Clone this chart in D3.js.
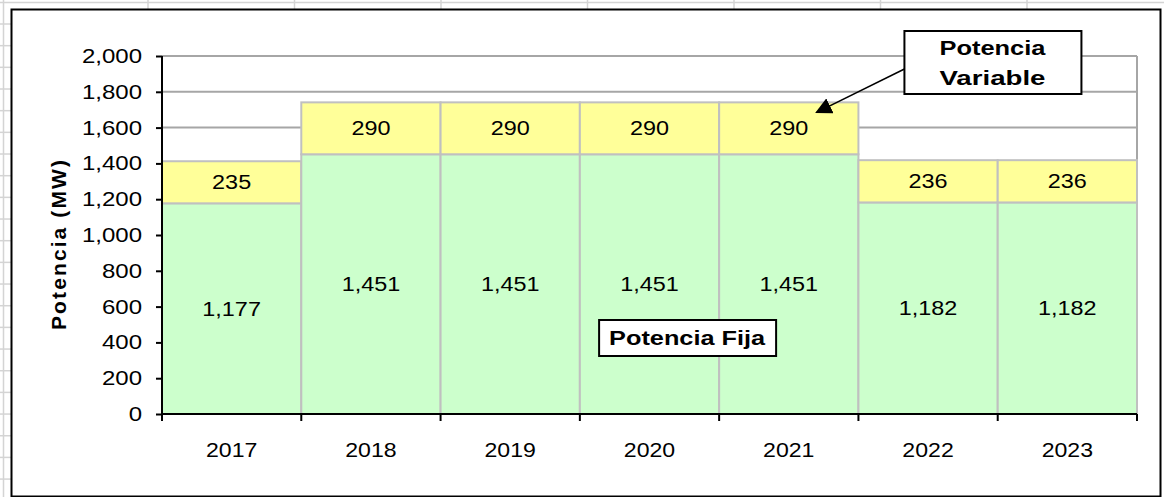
<!DOCTYPE html>
<html>
<head>
<meta charset="utf-8">
<script src="https://cdn.jsdelivr.net/npm/d3@7"></script>
<style>
  body { margin: 0; background: #fff; }
  svg text { font-family: "Liberation Sans", Arial, sans-serif; fill: #000; }
</style>
</head>
<body>
<script>
//////////////// Datas ////////////////////
var years = ["2017", "2018", "2019", "2020", "2021", "2022", "2023"];
var potenciaFija = [1177, 1451, 1451, 1451, 1451, 1182, 1182];
var potenciaVariable = [235, 290, 290, 290, 290, 236, 236];
var yTicks = [0, 200, 400, 600, 800, 1000, 1200, 1400, 1600, 1800, 2000];

var dataset = years.map(function(y, i) {
  return {year: y, fija: potenciaFija[i], variable: potenciaVariable[i]};
});

//////////////// Variables ////////////////////
var W = 1164, H = 497;
var margin = {top: 56, right: 27, bottom: 83, left: 162},
  width = W - margin.left - margin.right,
  height = H - margin.top - margin.bottom;

var svg = d3.select("body")
  .append("svg")
  .attr("width", W)
  .attr("height", H);

// the old excel picture is a bit stretched sideways -> widen the text
function stretch(sel, k) {
  sel.each(function() {
    var len = this.getComputedTextLength();
    d3.select(this)
      .attr("textLength", len * k)
      .attr("lengthAdjust", "spacingAndGlyphs");
  });
}

//////////////// spreadsheet background ////////////////////
var bg = svg.append("g").attr("stroke", "#d4d4d4").attr("stroke-width", 1.5);
bg.append("line").attr("x1", 0).attr("x2", W).attr("y1", 2.5).attr("y2", 2.5);
bg.append("line").attr("x1", 3.5).attr("x2", 3.5).attr("y1", 0).attr("y2", H);
d3.range(148, W, 146.5).forEach(function(x) {
  bg.append("line").attr("x1", x).attr("x2", x).attr("y1", 0).attr("y2", 10);
});
d3.range(24, H, 21.67).forEach(function(y) {
  bg.append("line").attr("x1", 0).attr("x2", 11).attr("y1", y).attr("y2", y);
});

// chart frame
svg.append("rect")
  .attr("x", 11.5).attr("y", 9.5)
  .attr("width", 1149).attr("height", 487)
  .attr("fill", "#fff")
  .attr("stroke", "#000")
  .attr("stroke-width", 2);

var g = svg.append("g")
  .attr("transform", "translate(" + margin.left + "," + margin.top + ")");

//////////////// Scaling ///////////////
var x = d3.scaleBand()
  .domain(years)
  .range([0, width])
  .padding(0);
var y = d3.scaleLinear()
  .domain([0, 2000])
  .range([height, 0]);

//////////////// Gridlines ///////////////
g.append("g")
  .selectAll("line")
  .data(yTicks.filter(function(d) { return d > 0; }))
  .enter()
  .append("line")
  .attr("x1", 0).attr("x2", width)
  .attr("y1", function(d) { return y(d); })
  .attr("y2", function(d) { return y(d); })
  .attr("stroke", "#a6a6a6")
  .attr("stroke-width", 2);
g.append("line")
  .attr("x1", width).attr("x2", width)
  .attr("y1", 0).attr("y2", height)
  .attr("stroke", "#a6a6a6")
  .attr("stroke-width", 2);

//////////////// Bars ///////////////
var bars = g.selectAll("g.bar")
  .data(dataset)
  .enter()
  .append("g")
  .attr("class", "bar");

bars.append("rect")
  .attr("x", function(d) { return x(d.year); })
  .attr("y", function(d) { return y(d.fija); })
  .attr("width", x.bandwidth())
  .attr("height", function(d) { return height - y(d.fija); })
  .attr("fill", "#ccffcc")
  .attr("stroke", "#c0c0c0")
  .attr("stroke-width", 2);

bars.append("rect")
  .attr("x", function(d) { return x(d.year); })
  .attr("y", function(d) { return y(d.fija + d.variable); })
  .attr("width", x.bandwidth())
  .attr("height", function(d) { return y(d.fija) - y(d.fija + d.variable); })
  .attr("fill", "#ffff99")
  .attr("stroke", "#c0c0c0")
  .attr("stroke-width", 2);

var fmt = d3.format(",");

bars.append("text")
  .attr("class", "val")
  .attr("x", function(d) { return x(d.year) + x.bandwidth() / 2; })
  .attr("y", function(d) { return (y(d.fija) + height) / 2; })
  .attr("dy", "0.35em")
  .attr("text-anchor", "middle")
  .style("font-size", "20px")
  .text(function(d) { return fmt(d.fija); });

bars.append("text")
  .attr("class", "val")
  .attr("x", function(d) { return x(d.year) + x.bandwidth() / 2; })
  .attr("y", function(d) { return (y(d.fija) + y(d.fija + d.variable)) / 2; })
  .attr("dy", "0.35em")
  .attr("text-anchor", "middle")
  .style("font-size", "20px")
  .text(function(d) { return fmt(d.variable); });

stretch(bars.selectAll("text.val"), 1.17);

//////////////// Axis ///////////////
var yAxis = d3.axisLeft(y)
  .tickValues(yTicks)
  .tickFormat(fmt)
  .tickSize(6)
  .tickPadding(14);

var yAchse = g.append("g")
  .attr("class", "y axis")
  .call(yAxis);
yAchse.select(".domain").attr("stroke", "#000").attr("stroke-width", 2).attr("d", "M0,0V" + height);
yAchse.selectAll(".tick line").attr("stroke", "#000").attr("stroke-width", 2);
yAchse.selectAll(".tick text")
  .style("font-size", "20px")
  .style("font-family", "'Liberation Sans', Arial, sans-serif");
stretch(yAchse.selectAll(".tick text"), 1.2);

var xAchse = g.append("g")
  .attr("class", "x axis")
  .attr("transform", "translate(0," + height + ")");
xAchse.append("line")
  .attr("x1", 0).attr("x2", width)
  .attr("stroke", "#000").attr("stroke-width", 2);
xAchse.selectAll("line.tk")
  .data(years.concat(["end"]))
  .enter()
  .append("line")
  .attr("class", "tk")
  .attr("x1", function(d, i) { return i * x.step(); })
  .attr("x2", function(d, i) { return i * x.step(); })
  .attr("y1", 0).attr("y2", 7)
  .attr("stroke", "#000").attr("stroke-width", 2);
xAchse.selectAll("text")
  .data(years)
  .enter()
  .append("text")
  .attr("x", function(d) { return x(d) + x.bandwidth() / 2; })
  .attr("y", 43)
  .attr("text-anchor", "middle")
  .style("font-size", "21px")
  .text(function(d) { return d; });
stretch(xAchse.selectAll("text"), 1.1);

// y axis title
g.append("text")
  .attr("transform", "translate(-96," + (height / 2 + 10) + ") rotate(-90)")
  .attr("text-anchor", "middle")
  .style("font-size", "21px")
  .style("font-weight", "bold")
  .attr("textLength", 170)
  .attr("lengthAdjust", "spacing")
  .text("Potencia (MW)");

//////////////// Annotations ///////////////
// Potencia Fija label box
var fijaBox = g.append("g")
  .attr("transform", "translate(" + (x("2020") + x.bandwidth() * 0.77) + "," + (y(0) - 76) + ")");
fijaBox.append("rect")
  .attr("x", -88).attr("y", -18)
  .attr("width", 177).attr("height", 36)
  .attr("fill", "#fff").attr("stroke", "#000").attr("stroke-width", 2);
fijaBox.append("text")
  .attr("text-anchor", "middle")
  .attr("dy", "0.36em")
  .style("font-size", "20px")
  .style("font-weight", "bold")
  .attr("textLength", 156)
  .attr("lengthAdjust", "spacingAndGlyphs")
  .text("Potencia Fija");

// Potencia Variable label box + arrow
var tip = {x: x("2021") + x.bandwidth() * 0.7, y: y(potenciaFija[4] + potenciaVariable[4]) + 10};
var boxX = x("2022") + 46, boxY = -25;

svg.append("defs").append("marker")
  .attr("id", "arrow")
  .attr("viewBox", "0 0 10 10")
  .attr("refX", 9).attr("refY", 5)
  .attr("markerWidth", 11).attr("markerHeight", 11)
  .attr("markerUnits", "strokeWidth")
  .attr("orient", "auto")
  .append("path")
  .attr("d", "M0,0L10,5L0,10Z")
  .attr("fill", "#000");

g.append("line")
  .attr("x1", boxX).attr("y1", boxY + 38)
  .attr("x2", tip.x).attr("y2", tip.y)
  .attr("stroke", "#000")
  .attr("stroke-width", 1.5)
  .attr("marker-end", "url(#arrow)");

var varBox = g.append("g").attr("transform", "translate(" + boxX + "," + boxY + ")");
varBox.append("rect")
  .attr("width", 177).attr("height", 63)
  .attr("fill", "#fff").attr("stroke", "#000").attr("stroke-width", 2);
varBox.append("text")
  .attr("x", 88).attr("y", 24)
  .attr("text-anchor", "middle")
  .style("font-size", "20px")
  .style("font-weight", "bold")
  .attr("textLength", 106)
  .attr("lengthAdjust", "spacingAndGlyphs")
  .text("Potencia");
varBox.append("text")
  .attr("x", 88).attr("y", 54)
  .attr("text-anchor", "middle")
  .style("font-size", "20px")
  .style("font-weight", "bold")
  .attr("textLength", 106)
  .attr("lengthAdjust", "spacingAndGlyphs")
  .text("Variable");
</script>
</body>
</html>
